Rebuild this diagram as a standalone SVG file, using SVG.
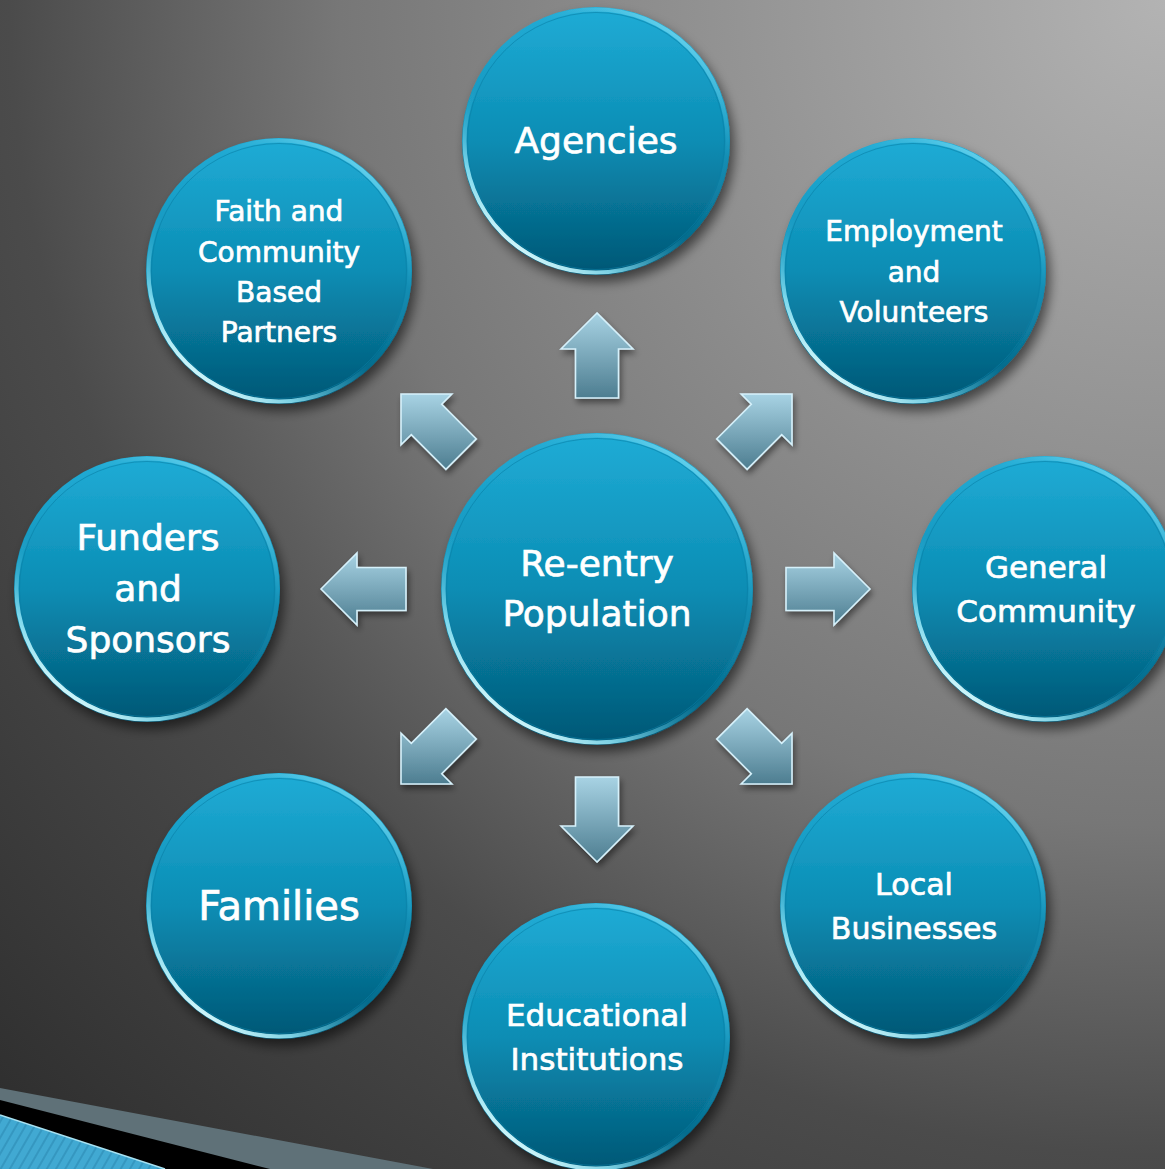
<svg xmlns="http://www.w3.org/2000/svg" width="1165" height="1169" viewBox="0 0 1165 1169">
<defs>
  <radialGradient id="bg" gradientUnits="userSpaceOnUse" cx="1165" cy="0" r="1650">
    <stop offset="0" stop-color="#b3b3b3"/>
    <stop offset="0.5" stop-color="#777777"/>
    <stop offset="0.7" stop-color="#4b4b4b"/>
    <stop offset="1" stop-color="#2c2c2c"/>
  </radialGradient>
  <linearGradient id="body" x1="0" y1="0" x2="0" y2="1">
    <stop offset="0" stop-color="#20acd6"/>
    <stop offset="0.5" stop-color="#0b8db4"/>
    <stop offset="1" stop-color="#025674"/>
  </linearGradient>
  <linearGradient id="rim" x1="0.85" y1="0.05" x2="0.2" y2="0.95">
    <stop offset="0" stop-color="#7fe2f8" stop-opacity="0.95"/>
    <stop offset="0.3" stop-color="#2aaad2" stop-opacity="0.2"/>
    <stop offset="0.6" stop-color="#2aaad2" stop-opacity="0.1"/>
    <stop offset="0.85" stop-color="#9aefff" stop-opacity="0.8"/>
    <stop offset="1" stop-color="#e6feff" stop-opacity="1"/>
  </linearGradient>
  <linearGradient id="arr" x1="0" y1="0" x2="0" y2="1">
    <stop offset="0" stop-color="#a8d3e4"/>
    <stop offset="1" stop-color="#4d7d90"/>
  </linearGradient>
  <pattern id="hatch" patternUnits="userSpaceOnUse" width="8" height="8" patternTransform="rotate(30)">
    <rect width="8" height="8" fill="#41a9d2"/>
    <rect width="2" height="8" fill="#3597c0"/>
  </pattern>
  <filter id="shadow" x="-20%" y="-20%" width="140%" height="140%">
    <feGaussianBlur in="SourceAlpha" stdDeviation="6"/>
    <feOffset dx="4" dy="7" result="b"/>
    <feComponentTransfer><feFuncA type="linear" slope="0.55"/></feComponentTransfer>
    <feMerge><feMergeNode/><feMergeNode in="SourceGraphic"/></feMerge>
  </filter>
  <filter id="ashadow" x="-30%" y="-30%" width="160%" height="160%">
    <feGaussianBlur in="SourceAlpha" stdDeviation="3"/>
    <feOffset dx="2" dy="4"/>
    <feComponentTransfer><feFuncA type="linear" slope="0.45"/></feComponentTransfer>
    <feMerge><feMergeNode/><feMergeNode in="SourceGraphic"/></feMerge>
  </filter>
</defs>
<style>
  .disc { fill: url(#body); }
  .rim { fill: none; stroke: url(#rim); stroke-width: 4; }
  .edge { fill: none; stroke: #0a7ea5; stroke-width: 1; opacity: 0.6; }
  .lbl { fill: #ffffff; stroke: #ffffff; stroke-width: 0.7; font-family: "DejaVu Sans", "Liberation Sans", sans-serif; text-anchor: middle; }
  .arrow { fill: url(#arr); stroke: #d6f1fb; stroke-width: 1.6; stroke-linejoin: miter; }
</style>

<rect width="1165" height="1169" fill="url(#bg)"/>

<g id="corner-bands">
  <polygon points="0,1088 433,1169 0,1169" fill="#5f7178"/>
  <polygon points="0,1100 270,1169 0,1169" fill="#000000"/>
  <polygon points="0,1115 165,1169 0,1169" fill="url(#hatch)"/>
  <line x1="0" y1="1115" x2="165" y2="1169" stroke="#a8e2f2" stroke-width="1.5"/>
</g>

<g id="connectors" filter="url(#ashadow)">
  <polygon class="arrow" points="597,313 561,349 575.5,349 575.5,398 618.5,398 618.5,349 633,349"/>
  <polygon class="arrow" points="597,862 561,826 575.5,826 575.5,777 618.5,777 618.5,826 633,826"/>
  <polygon class="arrow" points="870,589 834,553 834,567.5 786,567.5 786,610.5 834,610.5 834,625"/>
  <polygon class="arrow" points="321,589 357,553 357,567.5 406,567.5 406,610.5 357,610.5 357,625"/>
  <polygon class="arrow" points="792,394 741.1,394 751.3,404.3 716.7,438.9 747.1,469.3 781.7,434.7 792,444.9"/>
  <polygon class="arrow" points="401,394 451.9,394 441.7,404.3 476.3,438.9 445.9,469.3 411.3,434.7 401,444.9"/>
  <polygon class="arrow" points="792,784 741.1,784 751.3,773.7 716.7,739.1 747.1,708.7 781.7,743.3 792,733.1"/>
  <polygon class="arrow" points="401,784 451.9,784 441.7,773.7 476.3,739.1 445.9,708.7 411.3,743.3 401,733.1"/>
</g>

<g id="node-agencies">
  <circle class="disc" cx="596" cy="141" r="134" filter="url(#shadow)"/>
  <circle class="rim" cx="596" cy="141" r="131.5"/>
  <circle class="edge" cx="596" cy="141" r="128.5"/>
  <text class="lbl" x="596" y="153" font-size="36">Agencies</text>
</g>

<g id="node-faith">
  <circle class="disc" cx="279" cy="271" r="133" filter="url(#shadow)"/>
  <circle class="rim" cx="279" cy="271" r="130.5"/>
  <circle class="edge" cx="279" cy="271" r="127.5"/>
  <text class="lbl" font-size="28"><tspan x="279" y="221">Faith and</tspan><tspan x="279" y="262">Community</tspan><tspan x="279" y="302">Based</tspan><tspan x="279" y="342">Partners</tspan></text>
</g>

<g id="node-employment">
  <circle class="disc" cx="913" cy="271" r="133" filter="url(#shadow)"/>
  <circle class="rim" cx="913" cy="271" r="130.5"/>
  <circle class="edge" cx="913" cy="271" r="127.5"/>
  <text class="lbl" font-size="28"><tspan x="914" y="241">Employment</tspan><tspan x="914" y="282">and</tspan><tspan x="914" y="322">Volunteers</tspan></text>
</g>

<g id="node-funders">
  <circle class="disc" cx="147" cy="589" r="133" filter="url(#shadow)"/>
  <circle class="rim" cx="147" cy="589" r="130.5"/>
  <circle class="edge" cx="147" cy="589" r="127.5"/>
  <text class="lbl" font-size="36"><tspan x="148" y="550">Funders</tspan><tspan x="148" y="601">and</tspan><tspan x="148" y="652">Sponsors</tspan></text>
</g>

<g id="node-center">
  <circle class="disc" cx="597" cy="589" r="156" filter="url(#shadow)"/>
  <circle class="rim" cx="597" cy="589" r="153.5"/>
  <circle class="edge" cx="597" cy="589" r="150.5"/>
  <text class="lbl" font-size="36"><tspan x="597" y="576">Re-entry</tspan><tspan x="597" y="626">Population</tspan></text>
</g>

<g id="node-general">
  <circle class="disc" cx="1045" cy="589" r="133" filter="url(#shadow)"/>
  <circle class="rim" cx="1045" cy="589" r="130.5"/>
  <circle class="edge" cx="1045" cy="589" r="127.5"/>
  <text class="lbl" font-size="31"><tspan x="1046" y="578">General</tspan><tspan x="1046" y="622">Community</tspan></text>
</g>

<g id="node-families">
  <circle class="disc" cx="279" cy="906" r="133" filter="url(#shadow)"/>
  <circle class="rim" cx="279" cy="906" r="130.5"/>
  <circle class="edge" cx="279" cy="906" r="127.5"/>
  <text class="lbl" x="279" y="920" font-size="40">Families</text>
</g>

<g id="node-local">
  <circle class="disc" cx="913" cy="906" r="133" filter="url(#shadow)"/>
  <circle class="rim" cx="913" cy="906" r="130.5"/>
  <circle class="edge" cx="913" cy="906" r="127.5"/>
  <text class="lbl" font-size="30"><tspan x="914" y="895">Local</tspan><tspan x="914" y="939">Businesses</tspan></text>
</g>

<g id="node-educational">
  <circle class="disc" cx="596" cy="1037" r="134" filter="url(#shadow)"/>
  <circle class="rim" cx="596" cy="1037" r="131.5"/>
  <circle class="edge" cx="596" cy="1037" r="128.5"/>
  <text class="lbl" font-size="31"><tspan x="597" y="1026">Educational</tspan><tspan x="597" y="1070">Institutions</tspan></text>
</g>
</svg>
